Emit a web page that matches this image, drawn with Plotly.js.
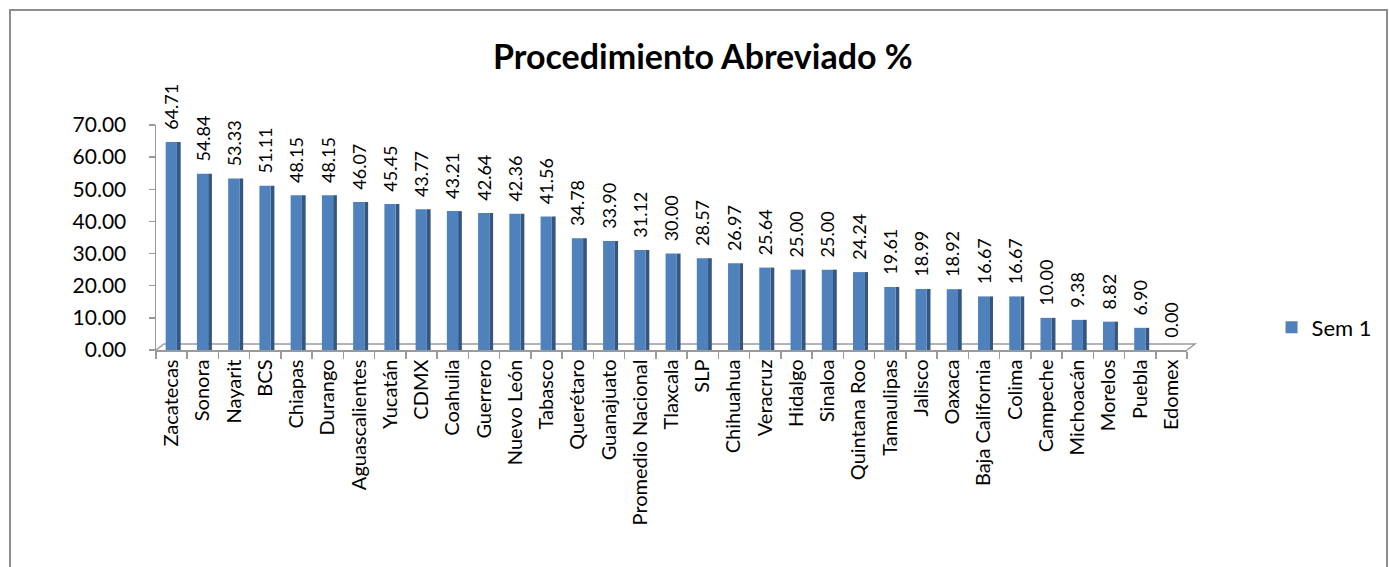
<!DOCTYPE html>
<html>
<head>
<meta charset="utf-8">
<script src="https://cdn.plot.ly/plotly-3.0.1.min.js"></script>
<style>
html,body{margin:0;padding:0;background:#fff;}
#wrap{position:relative;width:1389px;height:567px;overflow:hidden;}
#chart{position:absolute;left:0;top:0;width:1389px;height:567px;}
#frame{position:absolute;left:9px;top:9px;width:1375px;height:600px;border:2px solid #8c8c8c;pointer-events:none;}
</style>
</head>
<body>
<div id="wrap"><div id="chart"></div><div id="frame"></div></div>
<script>
const categories = ["Zacatecas","Sonora","Nayarit","BCS","Chiapas","Durango","Aguascalientes","Yucatán","CDMX","Coahuila","Guerrero","Nuevo León","Tabasco","Querétaro","Guanajuato","Promedio Nacional","Tlaxcala","SLP","Chihuahua","Veracruz","Hidalgo","Sinaloa","Quintana Roo","Tamaulipas","Jalisco","Oaxaca","Baja California","Colima","Campeche","Michoacán","Morelos","Puebla","Edomex"];
const sem1 = [64.71,54.84,53.33,51.11,48.15,48.15,46.07,45.45,43.77,43.21,42.64,42.36,41.56,34.78,33.90,31.12,30.00,28.57,26.97,25.64,25.00,25.00,24.24,19.61,18.99,18.92,16.67,16.67,10.00,9.38,8.82,6.90,0.00];
const seriesName = "Sem 1";
const yTicks = [0,10,20,30,40,50,60,70];

const font = "Lato, 'Open Sans', sans-serif";
const face = {
  type: "bar", x: categories, y: sem1, name: seriesName,
  width: 0.36, offset: -0.19,
  marker: {color: "#4F81BD", line: {width: 0}},
  text: sem1.map(v => "\u00a0\u00a0" + v.toFixed(2)),
  textposition: "outside", textangle: -90, cliponaxis: false,
  textfont: {family: font, size: 18, color: "#000"},
  hoverinfo: "x+y"
};
const side = {
  type: "bar", x: categories, y: sem1, name: seriesName + " side",
  width: 0.12, offset: 0.17, showlegend: false,
  marker: {color: "#34567F", line: {width: 0}},
  hoverinfo: "skip"
};
const dx = 8/1033, dy = 6/225;
const layout = {
  width: 1389, height: 567,
  paper_bgcolor: "#fff", plot_bgcolor: "rgba(0,0,0,0)",
  margin: {l: 156, r: 200, t: 125, b: 217},
  barmode: "overlay",
  uniformtext: {mode: "show", minsize: 18},
  title: {text: "<b>Procedimiento Abreviado %</b>", font: {family: font, size: 34, color: "#000"}, x: 0.506, xanchor: "center", y: 0.9, yanchor: "middle"},
  xaxis: {type: "category", tickangle: -90, tickfont: {family: font, size: 20, color: "#000"},
    showline: true, linecolor: "#9a9a9a", linewidth: 1.5, ticks: "outside", tickson: "boundaries", ticklen: 7, tickcolor: "#9a9a9a", tickwidth: 1.5,
    showgrid: false, automargin: false},
  yaxis: {range: [0, 70], tickvals: yTicks, tickformat: ".2f", tickfont: {family: font, size: 21, color: "#000"},
    showline: true, linecolor: "#9a9a9a", linewidth: 1.5, ticks: "outside", ticklen: 6, tickcolor: "#9a9a9a", tickwidth: 1.5,
    ticklabelstandoff: 18, showgrid: false, zeroline: false, automargin: false},
  shapes: [
    {type: "path", xref: "paper", yref: "paper",
     path: `M 0 0 L ${dx} ${dy} L ${1+dx} ${dy} L 1 0`,
     line: {color: "#9a9a9a", width: 1.5}, fillcolor: "rgba(0,0,0,0)", layer: "below"}
  ],
  legend: {x: 1.082, y: 0.1, xanchor: "left", yanchor: "middle", font: {family: font, size: 22, color: "#000"}, bgcolor: "rgba(0,0,0,0)", itemwidth: 30},
  showlegend: true
};
Plotly.newPlot("chart", [side, face], layout, {staticPlot: true});
</script>
</body>
</html>
